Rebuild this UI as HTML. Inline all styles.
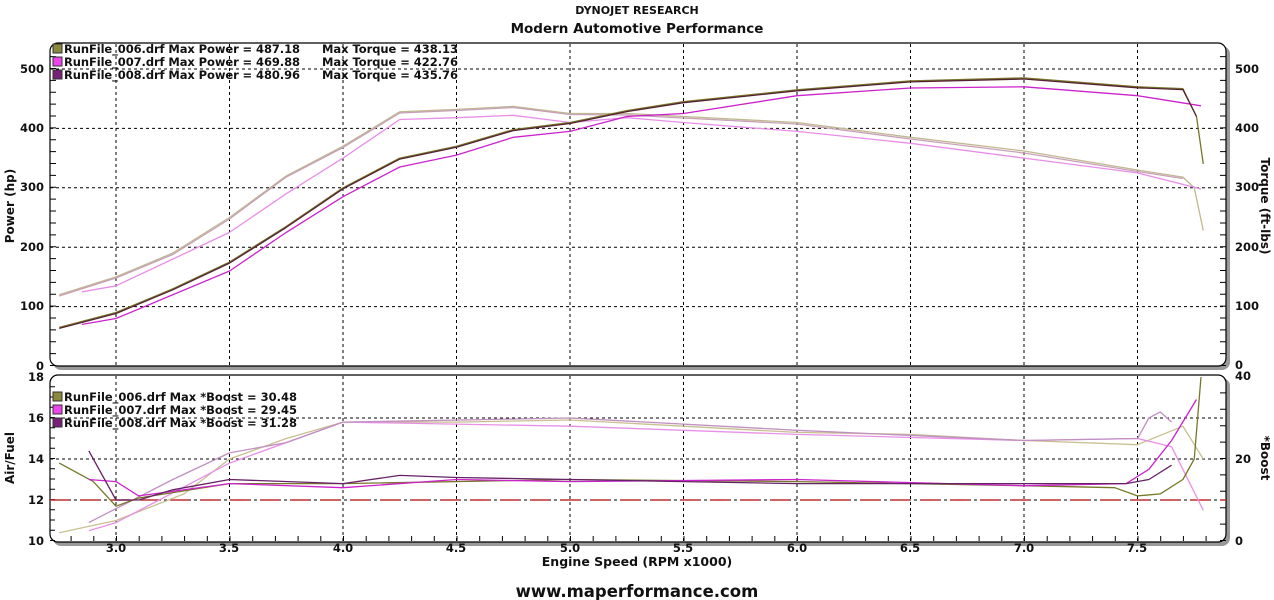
<!DOCTYPE html>
<html><head><meta charset="utf-8"><style>
html,body{margin:0;padding:0;background:#fff;width:1274px;height:600px;overflow:hidden}
svg text{font-family:"DejaVu Sans","Liberation Sans",sans-serif;font-weight:bold;fill:#111}
</style></head><body>
<svg width="1274" height="600" viewBox="0 0 1274 600" xmlns="http://www.w3.org/2000/svg">
<text x="637" y="14" font-size="11" text-anchor="middle">DYNOJET RESEARCH</text>
<text x="637" y="33" font-size="13.5" text-anchor="middle">Modern Automotive Performance</text>
<rect x="53" y="46" width="1177" height="324" rx="8" fill="#999"/>
<rect x="50" y="43" width="1176" height="323" rx="8" fill="#fff" stroke="#000" stroke-width="1.2"/>
<rect x="53" y="378" width="1177" height="168" rx="8" fill="#999"/>
<rect x="50" y="375" width="1176" height="167" rx="8" fill="#fff" stroke="#000" stroke-width="1.2"/>
<g stroke="#000" stroke-width="1" stroke-dasharray="3,3" fill="none">
<path d="M116,44V366M229.5,44V366M343,44V366M456.5,44V366M570,44V366M683.5,44V366M797,44V366M910.5,44V366M1024,44V366M1137.5,44V366"/>
<path d="M116,376V541M229.5,376V541M343,376V541M456.5,376V541M570,376V541M683.5,376V541M797,376V541M910.5,376V541M1024,376V541M1137.5,376V541"/>
<path d="M50,306.6H1226M50,247.2H1226M50,187.8H1226M50,128.4H1226M50,69H1226"/>
<path d="M50,500H1226M50,459H1226M50,418H1226"/>
</g>
<g stroke="#000" fill="none">
<line x1="53" y1="366" x2="53" y2="47" stroke-width="6" stroke-dasharray="1,10.88"/>
<line x1="1223" y1="366" x2="1223" y2="47" stroke-width="6" stroke-dasharray="1,10.88"/>
<line x1="52.5" y1="541" x2="52.5" y2="378" stroke-width="5" stroke-dasharray="1,9.25"/>
<line x1="1223" y1="541" x2="1223" y2="378" stroke-width="6" stroke-dasharray="1,15.4"/>
<line x1="70.6" y1="538.5" x2="1220" y2="538.5" stroke-width="5" stroke-dasharray="1,21.7"/>
</g>
<line x1="50" y1="500" x2="1226" y2="500" stroke="#c03030" stroke-width="1.6" stroke-dasharray="20,10"/>
<g fill="none" stroke-width="1.3" stroke-linejoin="round">
<polyline stroke="#bfb890" points="59.25,294.7 116,276.9 172.75,253.1 229.5,217.5 286.25,175.9 343,146.2 399.75,111.8 456.5,109.4 513.25,106.4 570,113.5 626.75,113.5 683.5,116.5 797,122.5 910.5,137.3 1024,151 1137.5,170 1182.9,177.1 1194.25,187.8 1203.3,230.6"/>
<polyline stroke="#c8a0b8" points="59.25,296 116,278 172.75,254.5 229.5,219 286.25,177 343,147.5 399.75,113 456.5,110.5 513.25,107.5 570,114.5 626.75,115 683.5,118 797,124 910.5,139 1024,153 1137.5,171.5 1182.9,178.5"/>
<polyline stroke="#e88ee8" points="82,291.8 116,285.8 229.5,232.4 286.25,193.7 343,158.1 399.75,119.5 456.5,117.7 513.25,115.3 570,122.5 626.75,117.7 683.5,122.5 797,131.4 910.5,143.3 1024,158.1 1137.5,172.9 1201,189"/>
<polyline stroke="#cc22cc" points="82,324.4 116,318.5 229.5,271 286.25,232.4 343,196.7 399.75,167 456.5,155.1 513.25,137.3 570,131.4 626.75,116.5 683.5,113.5 797,95.7 910.5,88 1024,86.8 1137.5,95.7 1201,105.8"/>
<polyline stroke="#77772a" points="59.25,327.4 116,312.5 172.75,288.8 229.5,262.1 286.25,226.4 343,187.8 399.75,158.1 456.5,146.2 513.25,129.6 570,122.5 626.75,110.6 683.5,101.7 797,89.8 910.5,80.9 1024,77.9 1137.5,86.8 1182.9,88.6 1196.5,116.5 1203.3,164"/>
<polyline stroke="#552233" points="59.25,328.4 116,313.5 172.75,289.8 229.5,263.1 286.25,227.4 343,188.8 399.75,159.1 456.5,147.2 513.25,130.6 570,123.5 626.75,111.6 683.5,102.7 797,90.8 910.5,81.9 1024,79 1137.5,87.8 1182.9,89.6 1196.5,116.5"/>
<polyline stroke="#c8c090" points="59.25,532.8 116,520.5 184.1,493.9 229.5,459 286.25,438.5 343,422.1 456.5,422.1 570,420 683.5,426.2 797,432.4 910.5,434.4 1024,440.5 1137.5,444.7 1182.9,426.2 1203.3,459"/>
<polyline stroke="#e890e8" points="88.8,530.8 116,522.6 229.5,463.1 343,422.1 570,426.2 797,434.4 1024,440.5 1137.5,438.5 1171.6,446.7 1203.3,510.3"/>
<polyline stroke="#c090c0" points="88.8,522.6 172.75,479.5 229.5,452.9 286.25,442.6 343,422.1 570,418 797,430.3 1024,440.5 1137.5,438.5 1148.9,418 1160.2,411.9 1171.6,422.1"/>
<polyline stroke="#77772a" points="59.25,463.1 93.3,481.6 116,506.2 138.7,498 229.5,483.6 343,483.6 570,479.5 797,481.6 1024,485.7 1114.8,487.7 1137.5,495.9 1160.2,493.9 1182.9,479.5 1194.25,459 1201,377"/>
<polyline stroke="#cc22cc" points="88.8,479.5 116,481.6 138.7,495.9 229.5,483.6 343,487.7 456.5,479.5 570,481.6 797,479.5 1024,485.7 1126.2,483.6 1148.9,469.3 1171.6,440.5 1196.5,399.5"/>
<polyline stroke="#662266" points="88.8,450.8 116,500 138.7,500 172.75,489.8 229.5,479.5 343,483.6 399.75,475.4 456.5,477.5 570,479.5 683.5,481.6 797,483.6 1024,483.6 1126.2,483.6 1148.9,479.5 1171.6,465.2"/>
</g>
<g font-size="11.5">
<text x="44" y="73" text-anchor="end">500</text>
<text x="44" y="132" text-anchor="end">400</text>
<text x="44" y="191" text-anchor="end">300</text>
<text x="44" y="251" text-anchor="end">200</text>
<text x="44" y="310" text-anchor="end">100</text>
<text x="44" y="370" text-anchor="end">0</text>
<text x="1235" y="73">500</text>
<text x="1235" y="132">400</text>
<text x="1235" y="191">300</text>
<text x="1235" y="251">200</text>
<text x="1235" y="310">100</text>
<text x="1235" y="369">0</text>
<text x="44" y="381" text-anchor="end">18</text>
<text x="44" y="422" text-anchor="end">16</text>
<text x="44" y="463" text-anchor="end">14</text>
<text x="44" y="504" text-anchor="end">12</text>
<text x="44" y="545" text-anchor="end">10</text>
<text x="1235" y="380">40</text>
<text x="1235" y="463">20</text>
<text x="1235" y="545">0</text>
<text x="116" y="552" text-anchor="middle">3.0</text>
<text x="229" y="552" text-anchor="middle">3.5</text>
<text x="343" y="552" text-anchor="middle">4.0</text>
<text x="456" y="552" text-anchor="middle">4.5</text>
<text x="570" y="552" text-anchor="middle">5.0</text>
<text x="683" y="552" text-anchor="middle">5.5</text>
<text x="797" y="552" text-anchor="middle">6.0</text>
<text x="910" y="552" text-anchor="middle">6.5</text>
<text x="1024" y="552" text-anchor="middle">7.0</text>
<text x="1137" y="552" text-anchor="middle">7.5</text>
</g>
<text font-size="12" transform="translate(14,206) rotate(-90)" text-anchor="middle">Power (hp)</text>
<text font-size="12" transform="translate(1261,206) rotate(90)" text-anchor="middle">Torque (ft-lbs)</text>
<text font-size="12" transform="translate(14,458) rotate(-90)" text-anchor="middle">Air/Fuel</text>
<text font-size="12" transform="translate(1261,458) rotate(90)" text-anchor="middle">*Boost</text>
<text x="637" y="566" font-size="12.5" text-anchor="middle">Engine Speed (RPM x1000)</text>
<text x="637" y="597" font-size="16.5" text-anchor="middle">www.maperformance.com</text>
<g font-size="11.5">
<rect x="53" y="44" width="9" height="9" fill="#8a8a3a" stroke="#333"/>
<rect x="53" y="57" width="9" height="9" fill="#ee44ee" stroke="#333"/>
<rect x="53" y="70" width="9" height="9" fill="#772277" stroke="#333"/>
<text x="64" y="53" textLength="236">RunFile_006.drf Max Power = 487.18</text>
<text x="64" y="66" textLength="236">RunFile_007.drf Max Power = 469.88</text>
<text x="64" y="79" textLength="236">RunFile_008.drf Max Power = 480.96</text>
<text x="322" y="53" textLength="136">Max Torque = 438.13</text>
<text x="322" y="66" textLength="136">Max Torque = 422.76</text>
<text x="322" y="79" textLength="136">Max Torque = 435.76</text>
<rect x="53" y="392" width="9" height="9" fill="#8a8a3a" stroke="#333"/>
<rect x="53" y="405" width="9" height="9" fill="#ee44ee" stroke="#333"/>
<rect x="53" y="418" width="9" height="9" fill="#772277" stroke="#333"/>
<text x="64" y="401" textLength="233">RunFile_006.drf Max *Boost = 30.48</text>
<text x="64" y="414" textLength="233">RunFile_007.drf Max *Boost = 29.45</text>
<text x="64" y="427" textLength="233">RunFile_008.drf Max *Boost = 31.28</text>
</g>
</svg>
</body></html>
